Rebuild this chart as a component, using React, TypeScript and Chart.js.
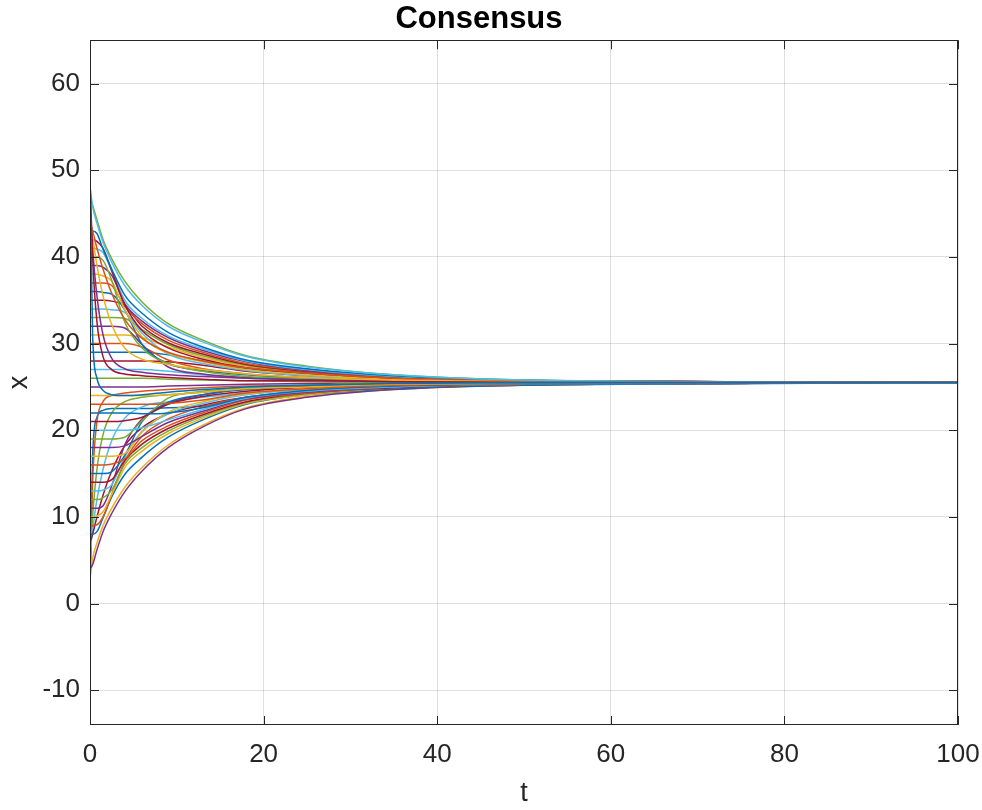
import React, { useEffect, useRef } from "react";
import { Chart, registerables } from "chart.js";

Chart.register(...registerables);

const tValues = [0, 0.3, 0.8, 1.5, 2.5, 4, 6, 9, 13, 18, 25, 35, 50, 100];
const xTicks = [0, 20, 40, 60, 80, 100];
const yTicks = [-10, 0, 10, 20, 30, 40, 50, 60];
const matlabColors = ["#0072BD", "#D95319", "#EDB120", "#7E2F8E", "#77AC30", "#4DBEEE", "#A2142F"];

// agent states x(t), named by initial value
const a01 = [1, 17, 21.5, 22.3, 22.5, 22.5, 22.5, 22.6, 22.8, 23.7, 24.4, 25.0, 25.3, 25.5];
const a02 = [2, 14, 21, 23.3, 24.0, 24.3, 24.5, 24.7, 24.9, 25.1, 25.2, 25.4, 25.5, 25.5];
const a03 = [3, 5.2, 7.0, 9.0, 11.0, 13.4, 15.7, 18.3, 20.6, 22.6, 23.9, 24.7, 25.2, 25.5];
const a04 = [4, 4.5, 6.2, 8.3, 10.4, 12.9, 15.3, 18.0, 20.4, 22.5, 23.8, 24.7, 25.2, 25.5];
const a05 = [5, 10, 15.5, 19.5, 22.0, 23.3, 23.8, 24.1, 24.4, 24.7, 25.0, 25.3, 25.4, 25.5];
const a06 = [6, 8.5, 12, 15.5, 18.8, 21.4, 22.7, 23.3, 23.8, 24.3, 24.7, 25.1, 25.3, 25.5];
const a07 = [7, 8, 10, 12.5, 15.3, 18.2, 20.3, 21.9, 22.9, 23.8, 24.5, 25.0, 25.3, 25.5];
const a08 = [8, 8, 8.3, 9.9, 12.3, 14.9, 16.9, 19.2, 21.2, 23.0, 24.1, 24.8, 25.2, 25.5];
const a09 = [9, 9, 9.1, 10.0, 12.6, 16.4, 19.3, 21.3, 22.7, 23.8, 24.5, 25.1, 25.3, 25.5];
const a10 = [10, 10, 10.1, 10.6, 12.6, 15.7, 17.6, 19.6, 21.4, 23.1, 24.1, 24.9, 25.3, 25.5];
const a11 = [11, 11, 11, 11.3, 13.6, 18.3, 21.3, 23.1, 24.1, 24.8, 25.1, 25.3, 25.4, 25.5];
const a12 = [12, 12, 12, 12.2, 13.1, 16.1, 18.0, 19.9, 21.6, 23.2, 24.2, 24.9, 25.3, 25.5];
const a13 = [13, 13, 13, 13.1, 13.7, 16.9, 19.9, 21.9, 23.1, 24.1, 24.7, 25.1, 25.4, 25.5];
const a14 = [14, 14, 14, 14, 14.3, 16.5, 18.4, 20.2, 21.8, 23.3, 24.3, 24.9, 25.3, 25.5];
const a15 = [15, 15, 15, 15, 15.2, 17.1, 21.0, 23.2, 24.1, 24.7, 25.0, 25.3, 25.4, 25.5];
const a16 = [16, 16, 16, 16, 16.1, 16.7, 18.8, 20.5, 22.0, 23.5, 24.3, 25.0, 25.3, 25.5];
const a17 = [17, 17, 17, 17, 17, 17.3, 19.8, 22.1, 23.3, 24.2, 24.8, 25.1, 25.4, 25.5];
const a18 = [18, 18, 18, 18, 18, 18.2, 19.3, 20.9, 22.2, 23.6, 24.4, 25.0, 25.3, 25.5];
const a19 = [19, 19, 19, 19, 19, 19.2, 21.1, 23.7, 24.5, 24.9, 25.2, 25.3, 25.4, 25.5];
const a20 = [20, 20, 20, 20, 20, 20, 20.3, 21.2, 22.4, 23.7, 24.5, 25.0, 25.3, 25.5];
const a21 = [21, 21, 21, 21, 21, 21.1, 21.5, 23.0, 23.9, 24.5, 25.0, 25.2, 25.4, 25.5];
const a22 = [22, 22, 22, 22, 22, 22, 21.9, 22.0, 22.6, 23.8, 24.6, 25.1, 25.3, 25.5];
const a23 = [23, 23, 23, 23, 23, 23, 23, 23.1, 23.5, 24.3, 24.8, 25.2, 25.4, 25.5];
const a24 = [24, 24, 24, 24, 24, 24, 24, 24.1, 24.4, 24.8, 25.0, 25.3, 25.4, 25.5];
const a25 = [25, 25, 25, 25, 25, 25, 25, 25.1, 25.2, 25.3, 25.4, 25.5, 25.5, 25.5];
const a26 = [26, 26, 26, 26, 26, 26, 26, 25.9, 25.8, 25.7, 25.6, 25.5, 25.5, 25.5];
const a27 = [27, 27, 27, 27, 27, 27, 27, 26.8, 26.4, 26.0, 25.8, 25.6, 25.5, 25.5];
const a28 = [28, 28, 28, 28, 28, 28, 28, 27.9, 27.5, 26.8, 26.3, 25.9, 25.6, 25.5];
const a29 = [29, 29, 29, 29, 29, 29, 29, 28.7, 28.0, 27.1, 26.5, 26.0, 25.7, 25.5];
const a30 = [30, 30, 30, 30, 30, 30, 29.6, 28.1, 27.1, 26.5, 26.1, 25.8, 25.6, 25.5];
const a31 = [31, 31, 31, 31, 31, 31, 30.7, 29.6, 28.4, 27.4, 26.6, 26.0, 25.7, 25.5];
const a32 = [32, 32, 32, 32, 32, 31.8, 29.9, 27.3, 26.5, 26.1, 25.9, 25.7, 25.6, 25.5];
const a33 = [33, 33, 33, 33, 33, 32.9, 31.6, 29.9, 28.6, 27.5, 26.7, 26.1, 25.7, 25.5];
const a34 = [34, 34, 34, 34, 33.9, 33.6, 31.2, 28.8, 27.7, 26.9, 26.3, 25.9, 25.6, 25.5];
const a35 = [35, 35, 35, 35, 34.9, 34.4, 32.0, 30.1, 28.8, 27.6, 26.8, 26.1, 25.7, 25.5];
const a36 = [36, 36, 36, 35.9, 35.7, 33.9, 29.9, 27.7, 26.9, 26.4, 26.0, 25.8, 25.6, 25.5];
const a37 = [37, 37, 37, 37, 36.7, 34.3, 32.3, 30.4, 29.0, 27.7, 26.9, 26.1, 25.7, 25.5];
const a38 = [38, 38, 38, 37.8, 37.2, 33.9, 30.8, 28.9, 27.9, 27.0, 26.4, 25.9, 25.6, 25.5];
const a39 = [39, 39, 39, 38.8, 37.9, 34.6, 32.6, 30.7, 29.2, 27.9, 26.9, 26.2, 25.7, 25.5];
const a40 = [40, 40, 40, 39.6, 37.3, 32.5, 29.5, 27.7, 26.8, 26.2, 26.0, 25.7, 25.6, 25.5];
const a41 = [41, 41, 40.9, 40.5, 38.4, 35.0, 32.9, 30.9, 29.4, 28.0, 27.0, 26.2, 25.7, 25.5];
const a42 = [42, 42, 41.8, 41.0, 38.4, 34.5, 31.5, 29.5, 28.2, 27.2, 26.6, 26.0, 25.7, 25.5];
const a43 = [43, 43, 42.7, 40.9, 38.6, 35.6, 33.5, 31.3, 29.6, 28.1, 27.1, 26.3, 25.8, 25.5];
const a44 = [44, 43.0, 41.0, 38.6, 35.8, 32.8, 30.6, 29.0, 28.0, 27.2, 26.6, 26.0, 25.7, 25.5];
const a45 = [45, 42.5, 39, 35.5, 32.2, 29.5, 28.2, 27.6, 27.0, 26.5, 26.1, 25.8, 25.6, 25.5];
const a46 = [46, 41, 35.5, 31, 28.3, 27.1, 26.7, 26.4, 26.2, 26.0, 25.8, 25.6, 25.5, 25.5];
const a47 = [47, 46.0, 44.3, 42.0, 39.8, 37.2, 34.8, 32.3, 30.4, 28.6, 27.4, 26.4, 25.8, 25.5];
const a48 = [48, 45.8, 43.9, 41.7, 39.4, 36.7, 34.4, 32.0, 30.2, 28.5, 27.3, 26.4, 25.8, 25.5];
const a49 = [49, 40, 32.5, 28.5, 27.0, 26.5, 26.3, 26.1, 25.9, 25.7, 25.7, 25.6, 25.5, 25.5];
const a50 = [50, 31, 26.0, 24.6, 24.1, 24.0, 24.1, 24.4, 24.7, 25.0, 25.2, 25.4, 25.5, 25.5];

const agents = [
  a01, a02, a03, a04, a05, a06, a07, a08, a09, a10,
  a11, a12, a13, a14, a15, a16, a17, a18, a19, a20,
  a21, a22, a23, a24, a25, a26, a27, a28, a29, a30,
  a31, a32, a33, a34, a35, a36, a37, a38, a39, a40,
  a41, a42, a43, a44, a45, a46, a47, a48, a49, a50,
];

const FONT = "'Liberation Sans', Arial, Helvetica, sans-serif";
const AXIS_COLOR = "#262626";
const GRID_COLOR = "rgba(38,38,38,0.15)";

const boxPlugin = {
  id: "matlabBox",
  afterDraw(chart: any) {
    const { ctx, chartArea: a, scales } = chart;
    const len = 9;
    ctx.save();
    ctx.strokeStyle = AXIS_COLOR;
    ctx.lineWidth = 1;
    ctx.strokeRect(Math.round(a.left) + 0.5, Math.round(a.top) + 0.5, Math.round(a.right - a.left) - 1, Math.round(a.bottom - a.top) - 1);
    ctx.beginPath();
    xTicks.forEach((v) => {
      const px = Math.round(scales.x.getPixelForValue(v)) + 0.5;
      ctx.moveTo(px, a.bottom);
      ctx.lineTo(px, a.bottom - len);
      ctx.moveTo(px, a.top);
      ctx.lineTo(px, a.top + len);
    });
    yTicks.forEach((v) => {
      const py = Math.round(scales.y.getPixelForValue(v)) + 0.5;
      ctx.moveTo(a.left, py);
      ctx.lineTo(a.left + len, py);
      ctx.moveTo(a.right, py);
      ctx.lineTo(a.right - len, py);
    });
    ctx.stroke();
    ctx.restore();
  },
};

export default function App() {
  const ref = useRef<HTMLCanvasElement>(null);

  useEffect(() => {
    if (!ref.current) return;
    const datasets = agents.map((vals, i) => ({
      label: `x${i + 1}`,
      data: vals.map((v, j) => ({ x: tValues[j], y: v })),
      borderColor: matlabColors[i % matlabColors.length],
      backgroundColor: matlabColors[i % matlabColors.length],
      borderWidth: 1.5,
      pointRadius: 0,
      fill: false,
      tension: 0.4,
      cubicInterpolationMode: "monotone" as const,
      order: agents.length - 1 - i,
    }));

    const chart = new Chart(ref.current, {
      type: "line",
      data: { datasets },
      plugins: [boxPlugin],
      options: {
        animation: false,
        responsive: false,
        devicePixelRatio: 1,
        layout: { padding: { left: 0, right: 24, top: 0, bottom: 0 } },
        plugins: {
          legend: { display: false },
          tooltip: { enabled: false },
          title: {
            display: true,
            text: "Consensus",
            color: "#000",
            font: { family: FONT, size: 31, weight: "bold" },
            padding: { top: 1, bottom: 2 },
          },
        },
        scales: {
          x: {
            type: "linear",
            min: 0,
            max: 100,
            afterBuildTicks: (s: any) => {
              s.ticks = xTicks.map((v) => ({ value: v }));
            },
            afterFit: (s: any) => {
              s.height = 85;
              s.paddingLeft = 0;
              s.paddingRight = 0;
            },
            border: { display: false },
            grid: { color: GRID_COLOR, lineWidth: 1, drawTicks: false },
            ticks: { padding: 14, color: AXIS_COLOR, font: { family: FONT, size: 26 }, maxRotation: 0 },
            title: { display: true, text: "t", color: AXIS_COLOR, font: { family: FONT, size: 27 }, padding: 0 },
          },
          y: {
            type: "linear",
            min: -14,
            max: 65,
            afterBuildTicks: (s: any) => {
              s.ticks = yTicks.map((v) => ({ value: v }));
            },
            afterFit: (s: any) => {
              s.width = 90;
              s.paddingTop = 0;
              s.paddingBottom = 0;
            },
            border: { display: false },
            grid: { color: GRID_COLOR, lineWidth: 1, drawTicks: false },
            ticks: { padding: 10, color: AXIS_COLOR, font: { family: FONT, size: 26 } },
            title: { display: true, text: "x", color: AXIS_COLOR, font: { family: FONT, size: 27 }, padding: { top: 3, bottom: 0 } },
          },
        },
      },
    });
    return () => chart.destroy();
  }, []);

  return (
    <div style={{ position: "absolute", left: 0, top: 0, width: 982, height: 810, background: "#fff" }}>
      <canvas ref={ref} width={982} height={810} style={{ display: "block", width: 982, height: 810 }} />
    </div>
  );
}
